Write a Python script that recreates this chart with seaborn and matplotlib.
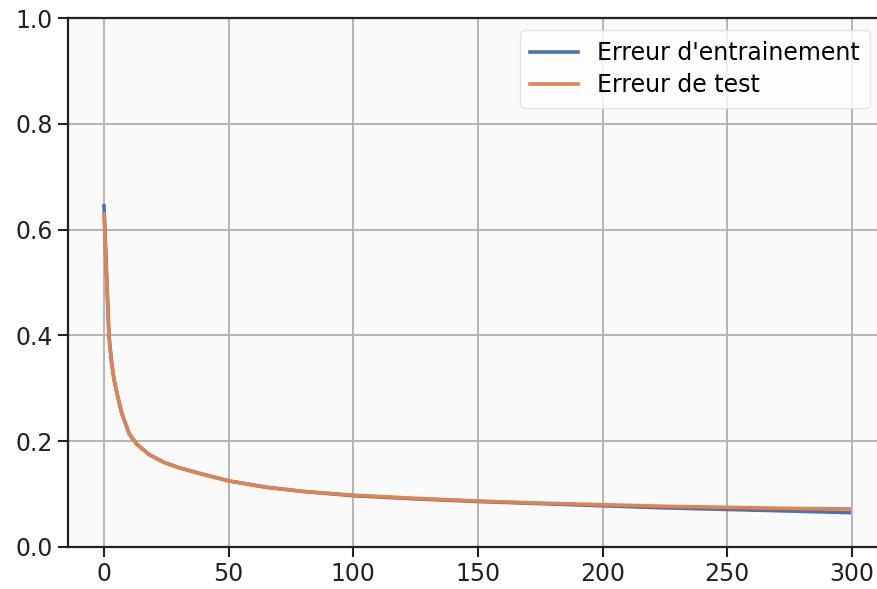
import matplotlib
matplotlib.use("Agg")
import matplotlib.pyplot as plt
import seaborn as sns
import pandas as pd

epochs = [0, 1, 2, 3, 4, 5, 7, 10, 13, 18, 24, 30, 40, 50, 65, 80, 100, 125, 150, 175, 200, 225, 250, 275, 299]
train_err = [0.645, 0.52, 0.40, 0.35, 0.318, 0.295, 0.255, 0.215, 0.195, 0.175, 0.16, 0.15, 0.137, 0.125,
             0.113, 0.105, 0.097, 0.091, 0.086, 0.082, 0.078, 0.074, 0.071, 0.068, 0.065]
test_err = [0.63, 0.51, 0.395, 0.348, 0.316, 0.294, 0.254, 0.215, 0.195, 0.175, 0.16, 0.15, 0.137, 0.125,
            0.113, 0.105, 0.098, 0.092, 0.087, 0.083, 0.08, 0.077, 0.075, 0.073, 0.072]
labels = ["Erreur d'entrainement", "Erreur de test"]

df = pd.DataFrame({
    "epoch": epochs * 2,
    "err": train_err + test_err,
    "serie": [labels[0]] * len(epochs) + [labels[1]] * len(epochs),
})

plt.rcParams['font.family'] = ['DejaVu Sans']
fig = plt.figure(figsize=(8.78, 5.89), dpi=100)
fig.patch.set_facecolor("white")
ax = fig.add_axes([68 / 878, 42 / 589, 810 / 878, 529 / 589])
ax.set_facecolor("#fafafa")

sns.lineplot(data=df, x="epoch", y="err", hue="serie", ax=ax,
             palette=["#4c72b0", "#dd8452"], linewidth=2.6)

ax.set_xlim(-14.45, 310.5)
ax.set_ylim(0, 1.0)
ax.set_xticks([0, 50, 100, 150, 200, 250, 300])
ax.set_yticks([0.0, 0.2, 0.4, 0.6, 0.8, 1.0])
ax.set_yticklabels(["0.0", "0.2", "0.4", "0.6", "0.8", "1.0"])
ax.grid(True, color="#b5b5b5", linewidth=1.4)
ax.set_axisbelow(True)
ax.set_xlabel("")
ax.set_ylabel("")
ax.tick_params(labelsize=17, length=7, width=1.5, pad=4, color="#222222", labelcolor="#222222")
for s in ax.spines.values():
    s.set_color("#222222")
    s.set_linewidth(1.6)
ax.spines["right"].set_visible(False)

leg = ax.legend(loc="upper right", bbox_to_anchor=(0.99, 0.977), borderaxespad=0,
                fontsize=17, frameon=True, handlelength=2.0, handletextpad=0.8,
                borderpad=0.45, labelspacing=0.35)
leg.set_title(None)
leg.get_frame().set_edgecolor("#dddddd")
leg.get_frame().set_facecolor("white")

fig.savefig("out.png", dpi=100)
